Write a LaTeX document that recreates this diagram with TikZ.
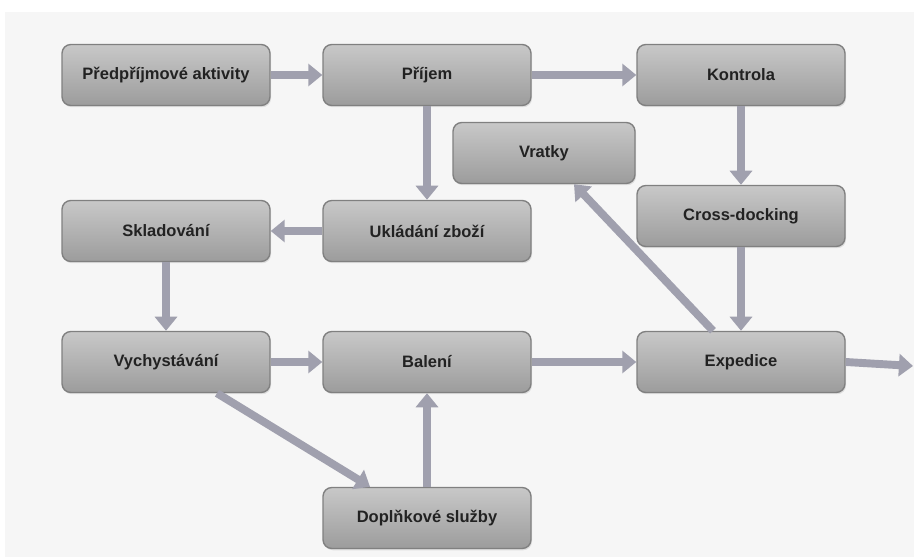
\documentclass[tikz,border=0pt]{standalone}
\usepackage{fontspec}
\setmainfont{Liberation Sans}
\usetikzlibrary{positioning, arrows.meta, shadows}
\definecolor{boxtop}{RGB}{200,200,200}
\definecolor{boxbot}{RGB}{156,156,156}
\definecolor{boxedge}{RGB}{128,128,128}
\definecolor{flowgray}{RGB}{160,160,174}
\definecolor{paper}{RGB}{246,246,246}
\definecolor{ink}{RGB}{34,34,34}

\begin{document}
\begin{tikzpicture}[x=0.02cm, y=-0.02cm,
  every node/.style={font=\fontsize{9.4}{11}\selectfont\bfseries},
  stage/.style={draw=boxedge, thick, rounded corners=5pt, top color=boxtop, bottom color=boxbot,
        minimum width=4.16cm, minimum height=1.22cm, text=ink,
        drop shadow={opacity=0.2, shadow xshift=0.6pt, shadow yshift=-1pt}},
  flow/.style={draw=flowgray, line width=4.5pt, -{Triangle[length=8pt, width=12.5pt]}}]
  \useasboundingbox (0,0) rectangle (914,557);
  \fill[paper] (5,12) rectangle (914,557);

  % top row
  \node[stage] (pre) at (166,75) {Předpříjmové aktivity};
  \node[stage] (prijem) at (427,75) {Příjem};
  \node[stage] (kontrola) at (741,75) {Kontrola};
  \node[stage, minimum width=3.64cm] (vratky) at (544,153) {Vratky};
  \node[stage] (cross) at (741,216) {Cross-docking};
  % middle
  \node[stage] (sklad) at (166,231) {Skladování};
  \node[stage] (uklad) at (427,231) {Ukládání zboží};
  % bottom
  \node[stage] (vych) at (166,362) {Vychystávání};
  \node[stage] (baleni) at (427,362) {Balení};
  \node[stage] (exped) at (741,362) {Expedice};
  \node[stage] (dopl) at (427,518) {Doplňkové služby};
  \coordinate (out) at (913,366);

  \draw[flow] (pre) -- (prijem);
  \draw[flow] (prijem) -- (kontrola);
  \draw[flow] (prijem) -- (uklad);
  \draw[flow] (kontrola) -- (cross);
  \draw[flow] (cross) -- (exped);
  \draw[flow] (uklad) -- (sklad);
  \draw[flow] (sklad) -- (vych);
  \draw[flow] (vych) -- (baleni);
  \draw[flow] (baleni) -- (exped);
  \draw[flow] (dopl) -- (baleni);
  \draw[flow] ([xshift=1.02cm]vych.south) -- ([xshift=-1.14cm]dopl.north);
  \draw[flow] ([xshift=-0.56cm]exped.north) -- ([xshift=0.6cm]vratky.south);
  \draw[flow] (exped.east) -- (out);
\end{tikzpicture}
\end{document}
